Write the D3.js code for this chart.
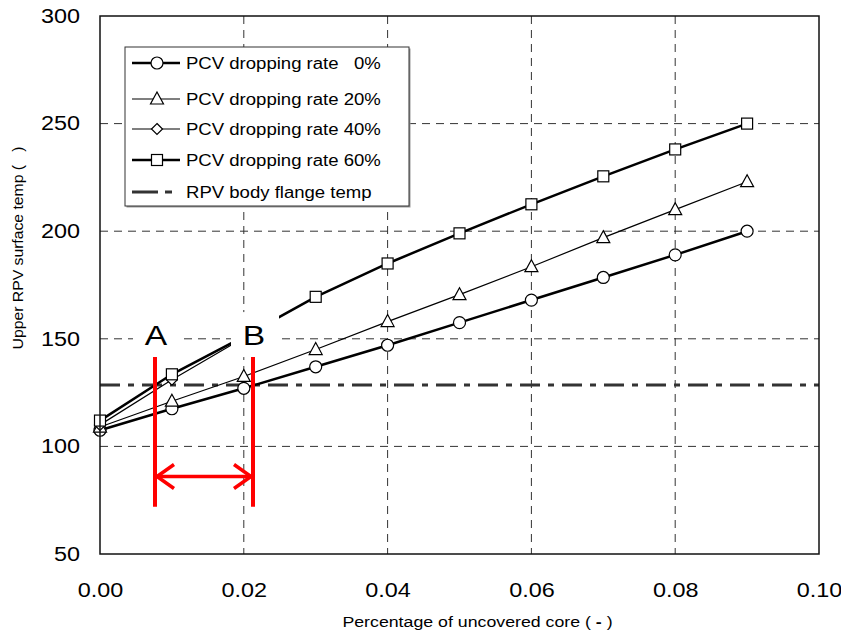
<!DOCTYPE html>
<html>
<head>
<meta charset="utf-8">
<script src="https://cdn.jsdelivr.net/npm/d3@7"></script>
<style>
  body { margin: 0; background: #fff; }
  text { font-family: Arial, "Liberation Sans", sans-serif; fill: #000; }
</style>
</head>
<body>
<div id="chart"></div>
<script>
// data
const coreX = [0, 0.01, 0.02, 0.03, 0.04, 0.05, 0.06, 0.07, 0.08, 0.09];
const rate0 = [107.5, 117.5, 127, 137, 147, 157.5, 168, 178.5, 189, 200];
const rate20 = [109, 121, 132.5, 145, 158, 170.5, 183.5, 197, 210, 223];
const rate40 = [110, 131, 150.5];
const rate60 = [112, 133.5, 151, 169.5, 185, 199, 212.5, 225.5, 238, 250];
const flangeTemp = 128.5;
const xTicks = [0, 0.02, 0.04, 0.06, 0.08, 0.10];
const yTicks = [50, 100, 150, 200, 250, 300];
const legendLabels = ["PCV dropping rate   0%", "PCV dropping rate 20%", "PCV dropping rate 40%", "PCV dropping rate 60%", "RPV body flange temp"];
// annotation A / B (data units)
const markA = 0.00765, markB = 0.02128;
const markTop = 141.5, markBottom = 72, arrowY = 86;

const margin = {l: 100, r: 22, t: 16, b: 79};
const overall_width = 841, overall_height = 633;
const width = overall_width - margin.l - margin.r;
const height = overall_height - margin.t - margin.b;
const stretch = 1.2; // text in the picture is wider than tall

let outerSvg = d3.select("#chart").append("svg")
    .attr("width", overall_width)
    .attr("height", overall_height);
outerSvg.append("rect").attr("width", "100%").attr("height", "100%").attr("fill", "#fff");
let svg = outerSvg.append("g").attr("transform", `translate(${margin.l},${margin.t})`);

let x = d3.scaleLinear().domain([0, 0.10]).range([0, width]);
let y = d3.scaleLinear().domain([50, 300]).range([height, 0]);

function wideText(g, px, py, k) {
    return g.append("text").attr("transform", `translate(${px},${py}) scale(${k || stretch},1)`);
}

//grid
svg.append("g").selectAll("line")
    .data(yTicks.filter(d => d > 50 && d < 300))
    .join("line")
    .attr("x1", 0).attr("x2", width)
    .attr("y1", d => y(d)).attr("y2", d => y(d))
    .attr("stroke", "#333").attr("stroke-width", 1).attr("stroke-dasharray", "8,6");
svg.append("g").selectAll("line")
    .data(xTicks.filter(d => d > 0 && d < 0.099))
    .join("line")
    .attr("x1", d => x(d)).attr("x2", d => x(d))
    .attr("y1", 0).attr("y2", height)
    .attr("stroke", "#333").attr("stroke-width", 1).attr("stroke-dasharray", "8,6");

//axes labels
let axisX = d3.axisBottom(x).tickValues(xTicks).tickFormat(d3.format(".2f")).tickSize(0).tickPadding(29);
let axisY = d3.axisLeft(y).tickValues(yTicks).tickSize(0).tickPadding(20 / stretch);
let gx = svg.append("g").attr("transform", `translate(0,${height})`).call(axisX);
let gy = svg.append("g").call(axisY);
[gx, gy].forEach(g => {
    g.select(".domain").remove();
    g.selectAll("text")
        .attr("transform", `scale(${stretch},1)`)
        .style("font-size", "19.5px").style("font-family", "Arial, 'Liberation Sans', sans-serif").attr("fill", "#111");
});

wideText(svg, width / 2 + 18, height + 73)
    .attr("text-anchor", "middle")
    .style("font-size", "14.8px")
    .html('Percentage of uncovered core ( <tspan font-weight="bold">-</tspan> )');

svg.append("text")
    .attr("transform", `translate(-77,232) rotate(-90) scale(1.05,1)`)
    .attr("text-anchor", "middle")
    .style("font-size", "15px")
    .style("white-space", "pre")
    .text("Upper RPV surface temp (   )");

//flange temperature
svg.append("line")
    .attr("x1", 0).attr("x2", width)
    .attr("y1", y(flangeTemp)).attr("y2", y(flangeTemp))
    .attr("stroke", "#333").attr("stroke-width", 3).attr("stroke-dasharray", "20,8,6,8");

const series = [
    {vals: rate0, w: 2.5, shape: "circle"},
    {vals: rate20, w: 1.2, shape: "triangle"},
    {vals: rate40, w: 1.2, shape: "diamond"},
    {vals: rate60, w: 2.5, shape: "square"}
];

function marker(g, shape) {
    if (shape === "circle") {
        g.append("circle").attr("r", 6);
    } else if (shape === "square") {
        g.append("rect").attr("x", -5.5).attr("y", -5.5).attr("width", 11).attr("height", 11);
    } else if (shape === "triangle") {
        g.append("path").attr("d", "M0,-7L6.5,5L-6.5,5Z");
    } else {
        g.append("path").attr("d", "M0,-5.5L5.5,0L0,5.5L-5.5,0Z");
    }
    g.selectAll("*").attr("fill", "#fff").attr("stroke", "#000").attr("stroke-width", 1.2);
}

let line = d3.line().x((d, i) => x(coreX[i])).y(d => y(d));
series.forEach(s => {
    svg.append("path").datum(s.vals)
        .attr("d", line)
        .attr("fill", "none").attr("stroke", "#000").attr("stroke-width", s.w);
});
series.forEach(s => {
    s.vals.forEach((v, i) => {
        let g = svg.append("g").attr("transform", `translate(${x(coreX[i])},${y(v)})`);
        marker(g, s.shape);
    });
});

//border
svg.append("rect").attr("width", width).attr("height", height)
    .attr("fill", "none").attr("stroke", "#111").attr("stroke-width", 1.5);

//legend
let legend = svg.append("g").attr("transform", "translate(25,31)");
legend.append("rect").attr("x", 1.5).attr("y", 1.5).attr("width", 284).attr("height", 159).attr("fill", "#999");
legend.append("rect").attr("width", 284).attr("height", 159)
    .attr("fill", "#fff").attr("stroke", "#333").attr("stroke-width", 1);
const rowY = [16, 52, 82, 113, 145];
legendLabels.forEach((lab, i) => {
    let row = legend.append("g").attr("transform", `translate(0,${rowY[i]})`);
    if (i < 4) {
        row.append("line").attr("x1", 7).attr("x2", 55).attr("y1", 0).attr("y2", 0)
            .attr("stroke", "#000").attr("stroke-width", series[i].w);
        let m = row.append("g").attr("transform", "translate(32,0)");
        marker(m, series[i].shape);
    } else {
        row.append("line").attr("x1", 7).attr("x2", 55).attr("y1", 0).attr("y2", 0)
            .attr("stroke", "#333").attr("stroke-width", 3).attr("stroke-dasharray", "26,7,7,20");
    }
    wideText(row, 61, 6, 1.16)
        .style("font-size", "16px").style("white-space", "pre")
        .attr("fill", "#111")
        .text(lab);
});

//A / B annotation
[{t: "A", v: markA}, {t: "B", v: markB}].forEach(d => {
    svg.append("rect")
        .attr("x", x(d.v) - 22).attr("y", y(markTop) - 45)
        .attr("width", 48).attr("height", 45).attr("fill", "#fff");
    wideText(svg, x(d.v) + 1, y(markTop) - 12)
        .attr("text-anchor", "middle")
        .style("font-size", "28px")
        .text(d.t);
    svg.append("line")
        .attr("x1", x(d.v)).attr("x2", x(d.v))
        .attr("y1", y(markTop)).attr("y2", y(markBottom))
        .attr("stroke", "#ff0000").attr("stroke-width", 4);
});
let ay = y(arrowY);
svg.append("line")
    .attr("x1", x(markA) + 2).attr("x2", x(markB) - 2)
    .attr("y1", ay).attr("y2", ay)
    .attr("stroke", "#ff0000").attr("stroke-width", 3.5);
svg.append("path")
    .attr("d", `M${x(markA) + 19},${ay - 12}L${x(markA) + 2},${ay}L${x(markA) + 19},${ay + 12}`
        + `M${x(markB) - 19},${ay - 12}L${x(markB) - 2},${ay}L${x(markB) - 19},${ay + 12}`)
    .attr("fill", "none").attr("stroke", "#ff0000").attr("stroke-width", 3.5);
</script>
</body>
</html>
